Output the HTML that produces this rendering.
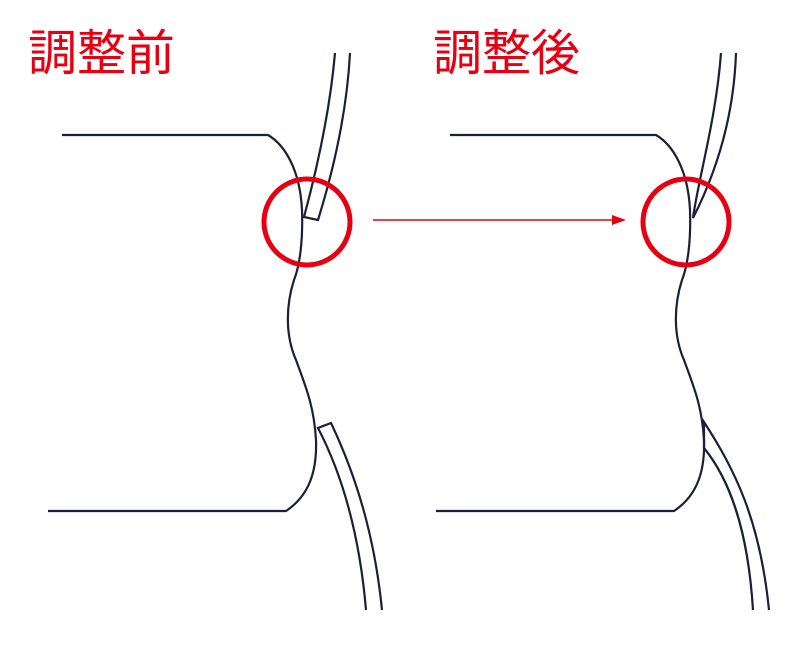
<!DOCTYPE html>
<html><head><meta charset="utf-8"><style>
html,body{margin:0;padding:0;background:#fff;width:800px;height:645px;overflow:hidden}
</style></head><body>
<svg width="800" height="645" viewBox="0 0 800 645" xmlns="http://www.w3.org/2000/svg">
<g font-family="'Liberation Sans','Noto Sans CJK JP',sans-serif" font-size="49" fill="#e60012">
<text x="28" y="70">調整前</text>
<text x="433" y="70">調整後</text>
</g>
<g fill="none" stroke="#1d1f3a" stroke-width="2.2">
<path d="M62,135 L268,135 C285,145 300,170 302,210 C303,240 300,265 294,280 C286,305 285,335 296,360 C305,385 314,405 316,440 C317,470 310,495 286,511 L48,511"/>
<path d="M350,53 C347,110 335,165 318,220 L304,217 C318,165 330,110 335,53"/>
<path d="M366,610 C360,540 345,480 318,428 L331,423 C358,480 375,540 382,610"/>
<path d="M450,135 L656,135 C673,145 688,170 690,210 C691,240 688,265 682,280 C674,305 673,335 684,360 C693,385 702,405 704,440 C705,470 698,495 674,511 L436,511"/>
<path d="M736,53 C734,110 720,165 693,218 C698,180 716,120 721,53"/>
<path d="M753,610 C748,530 730,480 704,448 L704,422 C735,470 760,520 769,610"/>
</g>
<g fill="none" stroke="#e60012">
<circle cx="307" cy="222" r="43" stroke-width="5"/>
<circle cx="686" cy="222" r="43" stroke-width="5"/>
<line x1="373" y1="220" x2="614" y2="220" stroke-width="1.5"/>
</g>
<polygon points="626,220 612,215 612,225" fill="#e60012"/>
</svg>
</body></html>
